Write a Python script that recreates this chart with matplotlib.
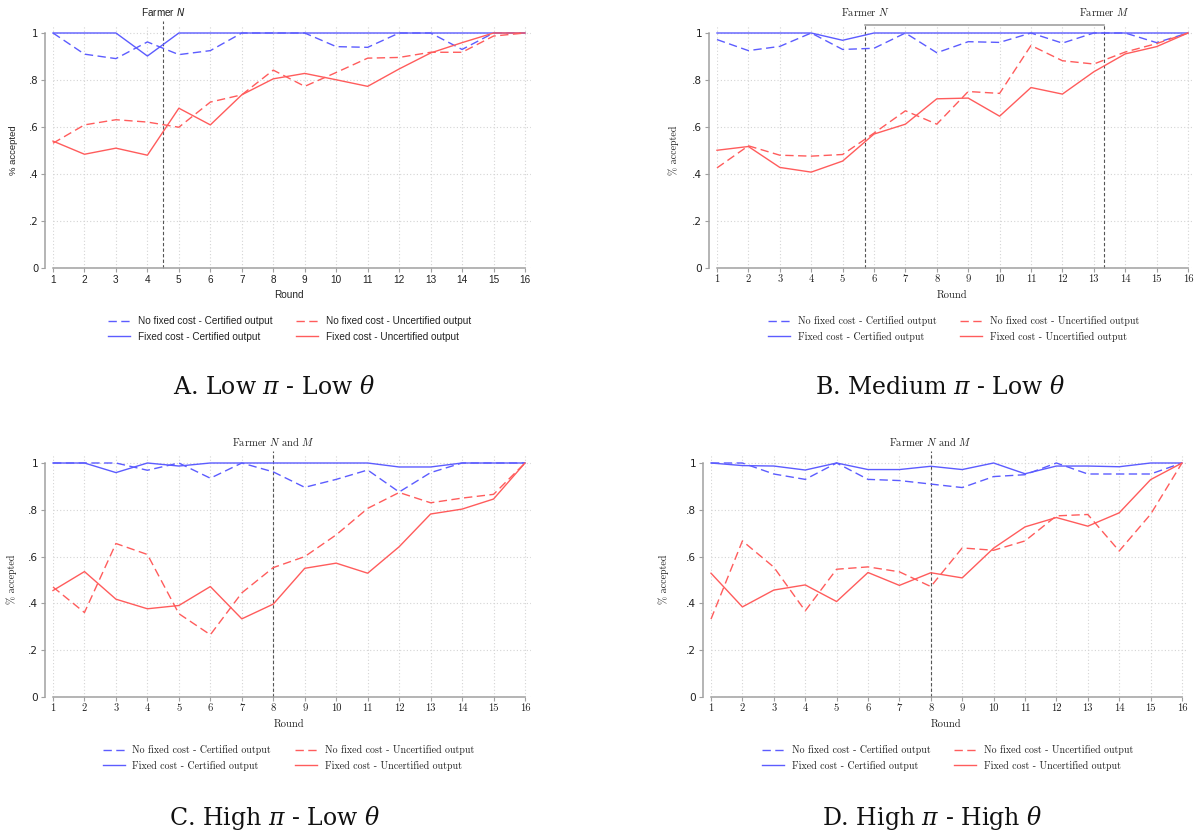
import matplotlib
matplotlib.use("Agg")
import matplotlib.pyplot as plt

# ---------------- data ----------------
rounds = list(range(1, 17))
ytick_vals = [0, 0.2, 0.4, 0.6, 0.8, 1.0]
ytick_labels = ["0", ".2", ".4", ".6", ".8", "1"]
series_labels = ["No fixed cost - Certified output", "Fixed cost - Certified output",
                 "No fixed cost - Uncertified output", "Fixed cost - Uncertified output"]

# Panel A: Low pi - Low theta
A_nofix_cert = [1.0, 0.91, 0.891, 0.962, 0.908, 0.925, 1.0, 1.0, 1.0, 0.942, 0.939, 1.0, 1.0, 0.93, 1.0, 1.0]
A_fix_cert = [1.0, 1.0, 1.0, 0.902, 1.0, 1.0, 1.0, 1.0, 1.0, 1.0, 1.0, 1.0, 1.0, 1.0, 1.0, 1.0]
A_nofix_unc = [0.531, 0.609, 0.631, 0.621, 0.599, 0.706, 0.737, 0.842, 0.773, 0.832, 0.893, 0.896, 0.918, 0.918, 0.987, 1.0]
A_fix_unc = [0.540, 0.484, 0.510, 0.480, 0.680, 0.609, 0.737, 0.805, 0.828, 0.801, 0.773, 0.847, 0.915, 0.959, 1.0, 1.0]

# Panel B: Medium pi - Low theta
B_nofix_cert = [0.972, 0.925, 0.943, 1.0, 0.930, 0.935, 1.0, 0.916, 0.963, 0.960, 1.0, 0.957, 1.0, 1.0, 0.959, 1.0]
B_fix_cert = [1.0, 1.0, 1.0, 1.0, 0.969, 1.0, 1.0, 1.0, 1.0, 1.0, 1.0, 1.0, 1.0, 1.0, 1.0, 1.0]
B_nofix_unc = [0.426, 0.520, 0.480, 0.476, 0.483, 0.574, 0.669, 0.612, 0.751, 0.743, 0.947, 0.882, 0.868, 0.919, 0.955, 1.0]
B_fix_unc = [0.501, 0.517, 0.428, 0.408, 0.455, 0.570, 0.612, 0.720, 0.723, 0.646, 0.768, 0.740, 0.835, 0.911, 0.942, 1.0]

# Panel C: High pi - Low theta
C_nofix_cert = [1.0, 1.0, 1.0, 0.969, 1.0, 0.935, 1.0, 0.962, 0.896, 0.930, 0.970, 0.876, 0.959, 1.0, 1.0, 1.0]
C_fix_cert = [1.0, 1.0, 0.959, 1.0, 0.987, 1.0, 1.0, 1.0, 1.0, 1.0, 1.0, 0.983, 0.983, 1.0, 1.0, 1.0]
C_nofix_unc = [0.470, 0.361, 0.656, 0.609, 0.356, 0.266, 0.445, 0.553, 0.600, 0.693, 0.806, 0.874, 0.830, 0.850, 0.866, 1.0]
C_fix_unc = [0.455, 0.536, 0.418, 0.377, 0.391, 0.472, 0.334, 0.397, 0.550, 0.572, 0.529, 0.642, 0.782, 0.803, 0.846, 1.0]

# Panel D: High pi - High theta
D_nofix_cert = [1.0, 1.0, 0.953, 0.930, 1.0, 0.930, 0.925, 0.910, 0.895, 0.942, 0.950, 1.0, 0.953, 0.953, 0.953, 1.0]
D_fix_cert = [1.0, 0.989, 0.987, 0.970, 1.0, 0.972, 0.972, 0.986, 0.972, 1.0, 0.954, 0.987, 0.987, 0.984, 1.0, 1.0]
D_nofix_unc = [0.333, 0.667, 0.555, 0.368, 0.546, 0.556, 0.535, 0.472, 0.637, 0.627, 0.667, 0.774, 0.780, 0.624, 0.781, 1.0]
D_fix_unc = [0.529, 0.385, 0.457, 0.479, 0.408, 0.532, 0.477, 0.531, 0.509, 0.636, 0.727, 0.767, 0.730, 0.787, 0.929, 1.0]

# ---------------- styling ----------------
W, H = 1195, 836
DPI = 100
BLUE = "#5c5cff"
RED = "#ff5c5c"
AXC = "#a0a0a0"
GRIDC = "#d4d4d4"
YTOP = 1.035
PX2PT = 72.0 / DPI

fig = plt.figure(figsize=(W / DPI, H / DPI), dpi=DPI)


def make_panel(px1, px16, py0, py1, xm, data, fam, mathfam, fs, caption, cap_xy,
               leg_xy, markers, marker_text, ylab_dx, bracket=False):
    unit_x = (px16 - px1) / 15.0
    unit_y = (py0 - py1)
    left = px1
    width = unit_x * (15 + xm)
    top_px = py0 - unit_y * YTOP
    height = py0 - top_px
    ax = fig.add_axes([left / W, 1 - py0 / H, width / W, height / H])
    ax.set_xlim(1, 16 + xm)
    ax.set_ylim(0, YTOP)

    styles = [(BLUE, (0, (6, 3.2))), (BLUE, "-"), (RED, (0, (6, 3.2))), (RED, "-")]
    handles = []
    for vals, (c, ls), lab in zip(data, styles, series_labels):
        h, = ax.plot(rounds, vals, color=c, linestyle=ls, linewidth=1.0, label=lab,
                     clip_on=False, zorder=3)
        handles.append(h)

    ax.set_xticks(rounds)
    ax.set_xticklabels([str(r) for r in rounds], family=fam)
    ax.set_yticks(ytick_vals)
    ax.set_yticklabels(ytick_labels, family=fam)
    ax.grid(True, color=GRIDC, linestyle=(0, (1, 2)), linewidth=0.8, zorder=0)
    for s in ("top", "right"):
        ax.spines[s].set_visible(False)
    ax.spines["left"].set_position(("outward", 8 * PX2PT))
    ax.spines["left"].set_bounds(0, 1)
    ax.spines["bottom"].set_bounds(1, 16)
    for s in ("left", "bottom"):
        ax.spines[s].set_color(AXC)
        ax.spines[s].set_linewidth(1.1)
    ax.tick_params(direction="out", length=4 * PX2PT, width=0.8, color=AXC,
                   labelsize=fs, pad=2, labelcolor="#222222")

    ax.set_xlabel("Round", family=fam, fontsize=fs, color="#222222")
    ax.xaxis.set_label_coords(0.5 * 15 / (15 + xm), -22.0 / height)
    ax.set_ylabel("% accepted", family=fam, fontsize=fs - 0.4, color="#222222")
    ax.yaxis.set_label_coords(-ylab_dx / width, 118.0 / height)

    # farmer markers
    for mx in markers:
        ax.plot([mx, mx], [0, 1.033 if bracket else 1.052], color="#555555",
                linestyle=(0, (3, 2)), linewidth=0.8, clip_on=False, zorder=2)
    if bracket:
        ax.plot([markers[0], markers[1]], [1.033, 1.033], color="#999999",
                linewidth=1.1, clip_on=False, zorder=2)
    for mx, txt in zip(marker_text[0], marker_text[1]):
        ax.text(mx, 1.09, txt, ha="center", va="center", fontsize=fs,
                family=fam, math_fontfamily=mathfam, color="#222222")

    leg = ax.legend(handles=handles, ncol=2, loc="upper left",
                    bbox_to_anchor=(leg_xy[0] / W, 1 - leg_xy[1] / H),
                    bbox_transform=fig.transFigure, frameon=False,
                    prop={"family": fam, "size": 7.2}, handlelength=2.2,
                    handletextpad=0.75, columnspacing=2.4, labelspacing=0.55,
                    borderpad=0, borderaxespad=0)
    for t in leg.get_texts():
        t.set_color("#222222")

    fig.text(cap_xy[0] / W, 1 - cap_xy[1] / H, caption, ha="center", va="center",
             fontsize=17, family="DejaVu Serif", math_fontfamily="dejavuserif",
             color="#111111")
    return ax


SANS = ["Liberation Sans", "DejaVu Sans"]
CM = ["cmr10", "DejaVu Serif"]

make_panel(53, 525, 268, 33, 0.2,
           [A_nofix_cert, A_fix_cert, A_nofix_unc, A_fix_unc],
           SANS, "dejavusans", 7.2, r"A. Low $\pi$ - Low $\theta$", (274, 388),
           (108, 316), [4.5], ([4.5], [r"Farmer $N$"]), 35)

make_panel(717, 1188, 268, 33, 0.15,
           [B_nofix_cert, B_fix_cert, B_nofix_unc, B_fix_unc],
           CM, "cm", 7.6, r"B. Medium $\pi$ - Low $\theta$", (940, 388),
           (768, 316), [5.72, 13.33], ([5.72, 13.33], [r"Farmer $N$", r"Farmer $M$"]),
           38, bracket=True)

make_panel(53, 525, 697, 463, 0.2,
           [C_nofix_cert, C_fix_cert, C_nofix_unc, C_fix_unc],
           CM, "cm", 7.6, r"C. High $\pi$ - Low $\theta$", (275, 818),
           (103, 745), [8], ([8], [r"Farmer $N$ and $M$"]), 36)

make_panel(711, 1182, 697, 463, 0.2,
           [D_nofix_cert, D_fix_cert, D_nofix_unc, D_fix_unc],
           CM, "cm", 7.6, r"D. High $\pi$ - High $\theta$", (932, 818),
           (762, 745), [8], ([8], [r"Farmer $N$ and $M$"]), 42)

fig.savefig("out.png", dpi=DPI)
